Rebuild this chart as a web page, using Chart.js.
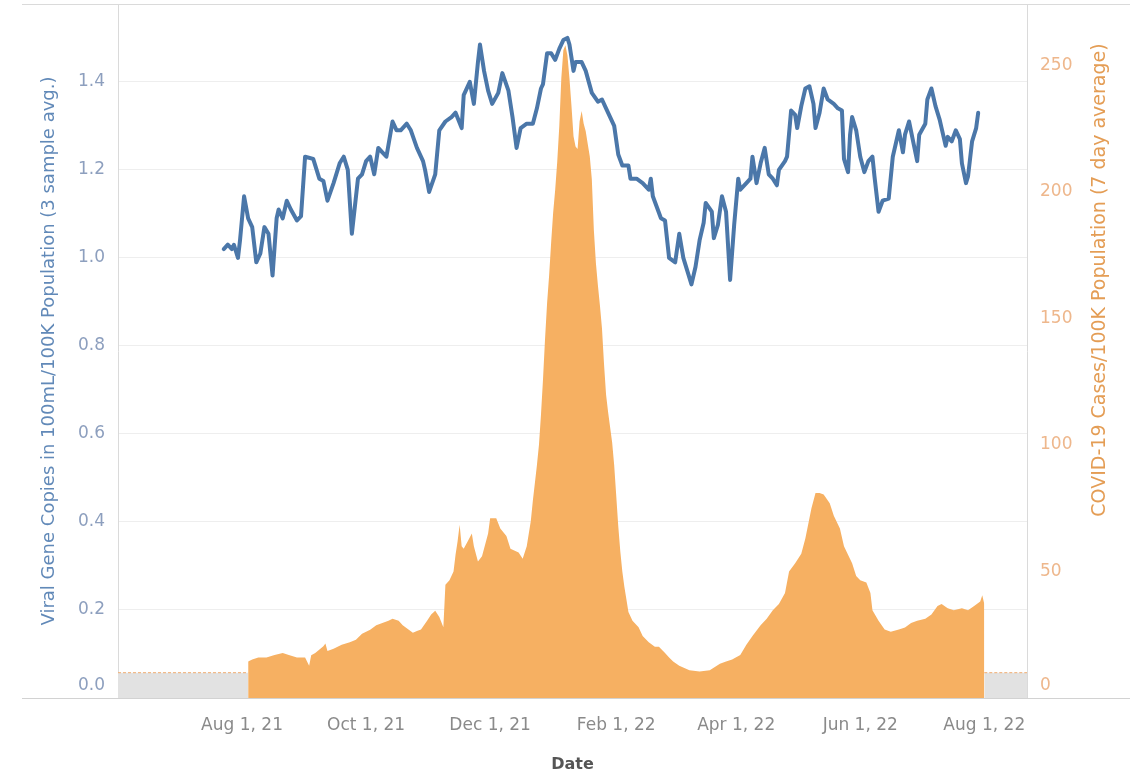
<!DOCTYPE html>
<html>
<head>
<meta charset="utf-8">
<script src="https://cdn.jsdelivr.net/npm/chart.js@4.4.0/dist/chart.umd.min.js"></script>
<style>
html,body{margin:0;padding:0;background:#fff;}
#wrap{width:1130px;height:774px;position:relative;}
canvas{display:block;}
</style>
</head>
<body>
<div id="wrap"><canvas id="c" width="1130" height="774"></canvas></div>
<script>
// ---- data (days counted from 2021-08-01) ----
const originDate = '2021-08-01';
const axisStartDate = '2021-06-01';
const axisEndDate = '2022-08-22';
const tickDates = ['2021-08-01','2021-10-01','2021-12-01','2022-02-01','2022-04-01','2022-06-01','2022-08-01'];
const tickLabels = ['Aug 1, 21','Oct 1, 21','Dec 1, 21','Feb 1, 22','Apr 1, 22','Jun 1, 22','Aug 1, 22'];
const leftTicks = [0, 0.2, 0.4, 0.6, 0.8, 1.0, 1.2, 1.4];
const rightTicks = [0, 50, 100, 150, 200, 250];
const leftMax = 1.577;
const rightMax = 274.3;
const noDataLevel = 10;

const viralDays = [-9,-7,-5,-4,-2,-1,1,3,5,7,9,11,13,15,17,18,20,22,24,27,29,31,35,38,40,42,45,48,50,52,54,57,59,61,63,65,67,69,71,74,76,78,81,83,86,89,90,92,95,97,100,103,105,108,109,112,114,116,117,119,121,123,126,128,131,133,135,137,140,143,145,147,148,150,152,154,156,158,160,161,163,164,167,169,172,175,177,179,181,183,185,187,190,191,194,197,200,201,202,204,206,208,210,213,215,217,219,221,223,225,227,228,231,232,234,236,238,240,242,244,245,248,250,251,253,255,257,259,261,263,264,267,268,270,272,273,275,277,279,281,282,284,286,288,291,293,295,296,298,299,300,302,304,306,308,310,311,313,315,318,320,323,325,326,328,330,332,333,336,337,339,341,343,344,346,347,349,351,353,354,356,357,359,361,362];
const viralValues = [1.02,1.03,1.02,1.03,1.00,1.04,1.14,1.09,1.07,0.99,1.01,1.07,1.055,0.96,1.09,1.11,1.09,1.13,1.11,1.085,1.095,1.23,1.225,1.18,1.175,1.13,1.17,1.215,1.23,1.20,1.055,1.18,1.19,1.22,1.23,1.19,1.25,1.24,1.23,1.31,1.29,1.29,1.305,1.29,1.25,1.22,1.20,1.15,1.19,1.29,1.31,1.32,1.33,1.295,1.37,1.40,1.35,1.445,1.485,1.425,1.38,1.35,1.375,1.42,1.38,1.32,1.25,1.295,1.305,1.305,1.34,1.385,1.395,1.465,1.465,1.45,1.475,1.495,1.50,1.485,1.425,1.445,1.445,1.425,1.375,1.355,1.36,1.34,1.32,1.30,1.235,1.21,1.21,1.18,1.18,1.17,1.155,1.18,1.14,1.115,1.09,1.085,1.00,0.99,1.055,1.00,0.97,0.94,0.98,1.04,1.08,1.125,1.105,1.045,1.075,1.14,1.105,0.95,1.075,1.18,1.155,1.17,1.18,1.23,1.17,1.215,1.25,1.19,1.18,1.165,1.20,1.22,1.23,1.335,1.325,1.295,1.345,1.385,1.39,1.35,1.295,1.33,1.385,1.36,1.35,1.34,1.335,1.225,1.195,1.28,1.32,1.29,1.23,1.195,1.22,1.23,1.185,1.105,1.13,1.135,1.23,1.29,1.24,1.28,1.31,1.265,1.22,1.28,1.305,1.36,1.385,1.345,1.315,1.295,1.255,1.275,1.265,1.29,1.27,1.215,1.17,1.185,1.265,1.295,1.33];

const caseDays = [3,5,8,12,16,20,23,27,31,33,34,36,40,41,42,45,49,53,56,59,63,66,69,72,74,77,79,82,84,86,88,91,93,95,97,99,100,102,104,105,106,107,108,109,111,113,114,116,118,121,122,125,127,130,132,136,138,140,142,143,144,145,146,147,148,149,150,151,152,153,154,155,156,157,158,159,160,161,162,163,164,165,166,167,168,169,170,171,172,173,174,175,176,177,178,179,180,181,182,183,184,185,186,187,188,189,190,192,195,197,200,203,205,208,210,212,215,220,225,230,235,238,241,245,248,251,255,258,261,264,267,269,272,275,277,280,282,284,286,289,291,294,296,300,302,304,307,309,310,313,316,319,323,326,329,332,336,339,342,344,347,350,354,357,360,363,364,365];
const caseValues = [14.4,15.2,16,16,17,17.8,17,16,16,12.7,16.9,17.8,20.5,21.5,18.6,19.5,21,22,23,25.4,27,28.8,29.6,30.5,31.3,30.5,28.8,27,25.8,26.5,27.1,30.5,33,34.5,32,28,44.8,46.5,50,56.7,62,68.5,60,59,62,65,60,54,56,65,71,71,67,64,59,57.5,55,60,70,78,85,92,100,112,126,142,156,167,180,192,201,212,226,245,256,258,254,245,234,222,218,217,228,232,227,224,219,214,205,185,172,163,155,146,132,120,113,107,101,92,80,68,58,50,44,39,34,30.5,28,24.5,22,20.3,20.3,17.8,16,14.4,12.7,11,10.5,11,13.5,14.4,15.2,17,21,24.5,28.8,31.3,34.7,37.2,41.5,50,53.3,57,63,75,81,81,80.4,77,72,67,60,53.3,48.2,46.5,45.7,41.5,34.7,30.5,27.1,26.2,27.1,27.9,29.6,30.5,31.3,33,36.4,37.2,35.5,34.7,35.5,34.7,36.4,38.1,40.6,37.2];

const leftTitle = 'Viral Gene Copies in 100mL/100K Population (3 sample avg.)';
const rightTitle = 'COVID-19 Cases/100K Population (7 day average)';
const xTitle = 'Date';

// ---- helpers ----
const dayOf = s => Math.round((Date.parse(s) - Date.parse(originDate)) / 864e5);
const toXY = (xs, ys) => xs.map((x, i) => ({x: x, y: ys[i]}));
const xMin = dayOf(axisStartDate);
const xMax = dayOf(axisEndDate);

const FONT = "'DejaVu Sans', sans-serif";
const leftTickColor = '#8d9fbe';
const rightTickColor = '#eeb78c';

const framePlugin = {
  id: 'frame',
  afterDraw(chart) {
    const c = chart.ctx;
    const area = chart.chartArea;
    const yL = chart.scales.yL, yR = chart.scales.yR;
    c.save();
    c.strokeStyle = '#dadada';
    c.lineWidth = 1;
    c.beginPath();
    c.moveTo(22, Math.round(area.top) + 0.5);
    c.lineTo(chart.width, Math.round(area.top) + 0.5);
    c.stroke();
    c.strokeStyle = '#d2d2d2';
    c.beginPath();
    c.moveTo(22, Math.round(area.bottom) + 0.5);
    c.lineTo(chart.width, Math.round(area.bottom) + 0.5);
    c.stroke();
    c.font = "17px " + FONT;
    c.textBaseline = 'middle';
    c.fillStyle = leftTickColor;
    c.textAlign = 'right';
    c.fillText((0).toFixed(1), area.left - 13, yL.getPixelForValue(0) - 12);
    c.fillStyle = rightTickColor;
    c.textAlign = 'left';
    c.fillText(String(0), area.right + 13, yR.getPixelForValue(0) - 12);
    c.save();
    c.translate(area.right + 73, 280);
    c.rotate(-Math.PI / 2);
    c.font = "19px " + FONT;
    c.fillStyle = '#e49d55';
    c.textAlign = 'center';
    c.textBaseline = 'middle';
    c.fillText(rightTitle, 0, 0);
    c.restore();
    c.restore();
  }
};

const noPad = s => { s.paddingTop = 0; s.paddingBottom = 0; };

new Chart(document.getElementById('c'), {
  type: 'line',
  data: {
    datasets: [
      {
        label: 'Viral gene copies',
        data: toXY(viralDays, viralValues),
        yAxisID: 'yL',
        borderColor: '#4b77a9',
        borderWidth: 4,
        borderJoinStyle: 'round',
        borderCapStyle: 'round',
        pointRadius: 0,
        tension: 0,
        fill: false,
        order: 0
      },
      {
        label: 'COVID-19 cases',
        data: toXY(caseDays, caseValues),
        yAxisID: 'yR',
        borderColor: 'rgba(0,0,0,0)',
        borderWidth: 0,
        backgroundColor: '#f6b062',
        pointRadius: 0,
        tension: 0,
        fill: 'origin',
        order: 1
      },
      {
        label: 'No data (before)',
        data: [{x: xMin, y: noDataLevel}, {x: caseDays[0], y: noDataLevel}],
        yAxisID: 'yR',
        borderColor: '#f0ad72',
        borderWidth: 1,
        borderDash: [3, 2],
        backgroundColor: '#e2e2e2',
        pointRadius: 0,
        fill: 'origin',
        order: 2
      },
      {
        label: 'No data (after)',
        data: [{x: caseDays[caseDays.length - 1], y: noDataLevel}, {x: xMax, y: noDataLevel}],
        yAxisID: 'yR',
        borderColor: '#f0ad72',
        borderWidth: 1,
        borderDash: [3, 2],
        backgroundColor: '#e2e2e2',
        pointRadius: 0,
        fill: 'origin',
        order: 2
      }
    ]
  },
  options: {
    responsive: false,
    animation: false,
    devicePixelRatio: 1,
    layout: {padding: {top: 4, left: 0, right: 0, bottom: 0}},
    plugins: {legend: {display: false}, tooltip: {enabled: false}},
    scales: {
      x: {
        type: 'linear',
        min: xMin,
        max: xMax,
        afterBuildTicks: s => { s.ticks = tickDates.map(d => ({value: dayOf(d)})); },
        afterFit: s => { s.height = 76; s.paddingLeft = 0; s.paddingRight = 0; },
        ticks: {
          callback: (v, i) => tickLabels[i],
          autoSkip: false,
          maxRotation: 0,
          color: '#8a8a8a',
          font: {family: FONT, size: 17},
          padding: 17
        },
        grid: {display: false, drawTicks: false},
        border: {display: true, color: '#d2d2d2'},
        title: {
          display: true,
          text: xTitle,
          color: '#555555',
          font: {family: FONT, size: 16, weight: 'bold'},
          padding: {top: 0, bottom: 0}
        }
      },
      yL: {
        type: 'linear',
        position: 'left',
        min: 0,
        max: leftMax,
        afterBuildTicks: s => { s.ticks = leftTicks.map(v => ({value: v})); },
        afterFit: s => { s.width = 118; noPad(s); },
        ticks: {
          callback: v => (v === 0 ? '' : v.toFixed(1)),
          color: leftTickColor,
          font: {family: FONT, size: 17},
          padding: 13
        },
        grid: {color: '#eeeeee', drawTicks: false},
        border: {display: true, color: '#dadada'},
        title: {
          display: true,
          text: leftTitle,
          color: '#6189b8',
          font: {family: FONT, size: 18},
          padding: {top: 39, bottom: 0}
        }
      },
      yR: {
        type: 'linear',
        position: 'right',
        min: 0,
        max: rightMax,
        afterBuildTicks: s => { s.ticks = rightTicks.map(v => ({value: v})); },
        afterFit: s => { s.width = 103; noPad(s); },
        ticks: {
          callback: v => (v === 0 ? '' : String(v)),
          color: rightTickColor,
          font: {family: FONT, size: 17},
          padding: 13
        },
        grid: {display: false, drawTicks: false},
        border: {display: true, color: '#dadada'}
      }
    }
  },
  plugins: [framePlugin]
});
</script>
</body>
</html>
